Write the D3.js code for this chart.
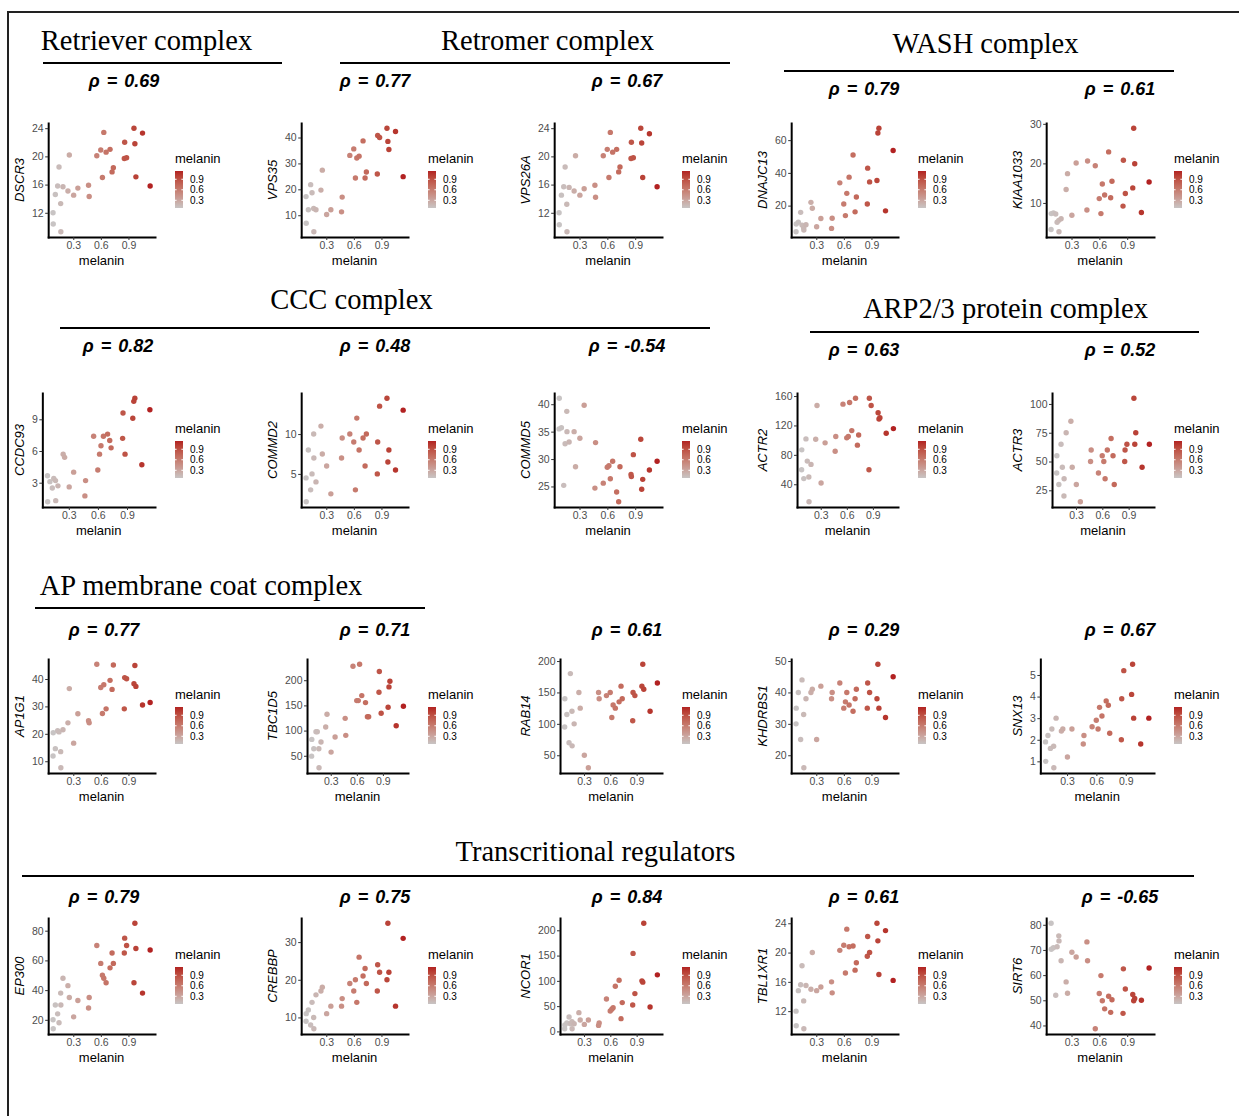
<!DOCTYPE html>
<html>
<head>
<meta charset="utf-8">
<script src="https://cdn.jsdelivr.net/npm/d3@7"></script>
<style>
  body { margin: 0; background: #fff; }
  svg text { font-family: "Liberation Sans", Arial, sans-serif; }
</style>
</head>
<body>
<div id="fig"></div>
<script>
// melanin score of the 30 samples, shared by every panel (sorted)
const melanin = [0.080, 0.082, 0.105, 0.130, 0.145, 0.163, 0.165, 0.188, 0.242, 0.257,
  0.304, 0.350, 0.466, 0.473, 0.556, 0.599, 0.617, 0.632, 0.657, 0.700,
  0.722, 0.736, 0.855, 0.859, 0.880, 0.960, 0.970, 0.981, 1.053, 1.136];

// expression per gene, same sample order as melanin
const DSCR3 = [12.0, 10.4, 14.6, 15.8, 18.5, 13.3, 9.3, 15.7, 15.1, 20.2, 14.5, 15.5, 15.9, 14.3, 20.1,
  20.9, 17.0, 23.4, 20.6, 21.0, 17.8, 18.4, 19.7, 22.0, 19.8, 24.0, 21.8, 17.1, 23.3, 15.8];
const VPS35 = [17.2, 6.9, 12.1, 21.8, 18.7, 12.6, 3.6, 12.1, 19.7, 27.4, 10.3, 12.1, 11.3, 17.0, 33.1,
  35.6, 24.4, 32.1, 32.8, 38.7, 24.4, 26.7, 25.9, 40.8, 40.0, 43.6, 38.5, 35.4, 42.3, 24.9];
const VPS26A = [12.0, 10.3, 14.5, 15.7, 18.5, 13.2, 9.3, 15.6, 15.1, 20.1, 14.5, 15.4, 15.9, 14.2, 20.1,
  21.0, 17.0, 23.4, 20.6, 21.0, 17.8, 18.5, 19.7, 22.0, 19.8, 24.0, 21.9, 17.0, 23.2, 15.7];
const DNAJC13 = [4.0, 8.8, 9.9, 15.9, 8.1, 6.5, 5.1, 8.3, 22.0, 18.4, 7.1, 12.1, 6.1, 12.3, 33.9,
  21.0, 13.9, 27.5, 37.4, 50.9, 16.2, 25.3, 21.0, 42.9, 34.5, 35.3, 64.4, 67.3, 16.8, 53.7];
const KIAA1033 = [3.3, 7.3, 7.5, 7.2, 5.1, 5.6, 2.7, 6.0, 13.4, 17.4, 6.9, 20.1, 8.2, 20.6, 19.4,
  11.1, 7.3, 14.8, 12.0, 22.9, 11.3, 15.5, 9.2, 20.8, 12.4, 13.8, 28.9, 19.9, 7.6, 15.3];
const CCDC93 = [3.66, 1.19, 3.1, 2.5, 3.4, 3.2, 1.3, 2.7, 5.7, 5.4, 2.6, 4.0, 1.75, 3.2, 7.4,
  4.2, 5.7, 6.5, 7.4, 7.6, 7.0, 6.3, 7.2, 9.6, 5.7, 9.1, 10.7, 11.0, 4.7, 9.9];
const COMMD2 = [4.5, 1.5, 8.0, 3.0, 5.0, 10.0, 7.0, 4.0, 11.0, 7.5, 6.0, 2.5, 7.0, 9.5, 10.0,
  9.0, 3.0, 12.0, 8.0, 9.5, 6.0, 10.0, 5.0, 9.0, 13.5, 14.5, 6.5, 8.0, 5.5, 13.0];
const COMMD5 = [35.5, 41.1, 35.7, 25.2, 32.8, 38.7, 35.0, 33.1, 35.0, 28.6, 33.8, 39.8, 24.7, 33.0, 25.6,
  28.5, 28.8, 26.4, 29.6, 24.0, 22.2, 28.6, 27.2, 26.8, 30.8, 33.6, 24.5, 26.3, 28.0, 29.6];
const ACTR2 = [59.8, 86.8, 47.7, 101.7, 71.5, 49.9, 16.1, 67.0, 101.3, 147.2, 41.8, 96.3, 85.0, 104.9, 149.0,
  103.1, 104.9, 151.3, 113.0, 157.1, 93.2, 107.1, 59.8, 157.1, 147.2, 137.3, 128.7, 130.5, 109.4, 115.7];
const ACTR3 = [40, 55, 30, 65, 45, 20, 35, 75, 85, 45, 30, 15, 50, 60, 40,
  55, 50, 35, 60, 70, 55, 30, 50, 60, 65, 105, 65, 75, 45, 65];
const AP1G1 = [11.9, 20.4, 14.6, 21.1, 20.7, 13.5, 7.6, 21.5, 24.0, 36.5, 16.6, 27.3, 24.8, 24.0, 45.4,
  36.9, 27.4, 37.9, 29.1, 39.5, 36.2, 45.1, 29.1, 40.5, 40.1, 38.3, 44.9, 37.3, 30.5, 31.4];
const TBC1D5 = [49.3, 82.5, 63.9, 97.8, 97.8, 63.9, 26.1, 77.2, 107.1, 132.3, 57.3, 87.2, 124.3, 90.5, 227.8,
  159.5, 159.5, 231.8, 169.4, 155.5, 127.6, 127.6, 176.1, 217.2, 134.3, 146.2, 186.7, 198.0, 109.7, 148.2];
const RAB14 = [95, 140, 115, 70, 180, 120, 65, 100, 150, 125, 50, 30, 150, 140, 145,
  150, 110, 130, 125, 135, 160, 140, 105, 150, 145, 160, 195, 155, 120, 165];
const KHDRBS1 = [30, 35, 40, 25, 44, 33, 16, 38, 40, 41, 25, 42, 38, 40, 43,
  35, 37, 40, 36, 34, 38, 41, 35, 43, 40, 38, 49, 35, 32, 45];
const SNX13 = [1.9, 1.0, 2.2, 1.6, 2.5, 1.7, 0.7, 3.0, 2.4, 2.5, 1.2, 2.5, 1.8, 2.2, 2.6,
  2.9, 2.5, 3.5, 3.1, 3.8, 3.6, 2.3, 2.0, 3.9, 5.2, 4.1, 5.5, 3.0, 1.8, 3.0];
const EP300 = [20, 14, 30, 24, 18, 38, 30, 48, 43, 35, 22, 33, 28, 35, 70,
  58, 50, 48, 45, 55, 65, 58, 65, 75, 70, 45, 85, 68, 38, 67];
const CREBBP = [9, 11, 12, 8, 14, 10, 7, 16, 17, 18, 11, 13, 13, 15, 19,
  17, 20, 14, 26, 21, 23, 19, 17, 24, 22, 20, 35, 22, 13, 31];
const NCOR1 = [5.3, 12.6, 16.6, 28.5, 15.2, 19.2, 5.3, 15.2, 37.1, 22.5, 13.9, 22.5, 11.9, 16.6, 64.2,
  40.4, 43.7, 47.0, 89.4, 101.3, 25.2, 57.0, 52.3, 154.3, 74.8, 100.0, 97.4, 213.9, 48.3, 111.9];
const TBL1XR1 = [12.0, 10.0, 14.8, 15.6, 18.2, 13.4, 9.6, 15.5, 15.0, 20.0, 14.8, 15.3, 16.0, 14.5, 20.3,
  21.0, 17.2, 23.2, 20.8, 20.9, 17.6, 18.6, 19.5, 22.2, 20.0, 24.0, 21.6, 17.0, 23.0, 16.2];
const SIRT6 = [80.6, 70.3, 70.9, 52.0, 71.3, 75.6, 73.6, 65.7, 57.3, 52.8, 69.1, 67.2, 73.2, 65.7, 38.7,
  52.7, 59.8, 49.8, 46.6, 51.6, 45.2, 50.2, 44.8, 62.5, 54.5, 52.3, 49.8, 50.7, 50.0, 62.8];

const geneNames = ["DSCR3", "VPS35", "VPS26A", "DNAJC13", "KIAA1033",
  "CCDC93", "COMMD2", "COMMD5", "ACTR2", "ACTR3",
  "AP1G1", "TBC1D5", "RAB14", "KHDRBS1", "SNX13",
  "EP300", "CREBBP", "NCOR1", "TBL1XR1", "SIRT6"];
const geneValues = [DSCR3, VPS35, VPS26A, DNAJC13, KIAA1033,
  CCDC93, COMMD2, COMMD5, ACTR2, ACTR3,
  AP1G1, TBC1D5, RAB14, KHDRBS1, SNX13,
  EP300, CREBBP, NCOR1, TBL1XR1, SIRT6];
const rhoValues = ["0.69", "0.77", "0.67", "0.79", "0.61",
  "0.82", "0.48", "-0.54", "0.63", "0.52",
  "0.77", "0.71", "0.61", "0.29", "0.67",
  "0.79", "0.75", "0.84", "0.61", "-0.65"];
const yTicks = [[12, 16, 20, 24], [10, 20, 30, 40], [12, 16, 20, 24], [20, 40, 60], [10, 20, 30],
  [3, 6, 9], [5, 10], [25, 30, 35, 40], [40, 80, 120, 160], [25, 50, 75, 100],
  [10, 20, 30, 40], [50, 100, 150, 200], [50, 100, 150, 200], [20, 30, 40, 50], [1, 2, 3, 4, 5],
  [20, 40, 60, 80], [10, 20, 30], [0, 50, 100, 150, 200], [12, 16, 20, 24], [40, 50, 60, 70, 80]];
const xTicks = [0.3, 0.6, 0.9];
const legendTicks = [0.3, 0.6, 0.9];

const groupTitles = ["Retriever complex", "Retromer complex", "WASH complex", "CCC complex",
  "ARP2/3 protein complex", "AP membrane coat complex", "Transcritional regulators"];

// ---- layout (pixels) ----
const W = 1239, H = 1116;
const colAnchor = [36.5, 289.5, 542.5, 779.5, 1034.5];
const colRight = [155, 408, 662, 898, 1154];
const rowTop = [123, 393, 659, 918];
const rowBottom = [237, 507, 773, 1034];
const rhoPos = [[124, 87], [375, 87], [627, 87], [864, 95], [1120, 95],
  [118, 352], [375, 352], [627, 352], [864, 356], [1120, 356],
  [104, 636], [375, 636], [627, 636], [864, 636], [1120, 636],
  [104, 903], [375, 903], [627, 903], [864, 903], [1120, 903]];
const titlePos = [
  {cx: 146.5, y: 49.5, x1: 43, x2: 282, ly: 63},
  {cx: 547.5, y: 50, x1: 340, x2: 730, ly: 63},
  {cx: 985.5, y: 52.5, x1: 784, x2: 1174, ly: 71},
  {cx: 351.5, y: 309, x1: 60, x2: 710, ly: 328},
  {cx: 1005.5, y: 318, x1: 810, x2: 1199, ly: 332},
  {cx: 201, y: 595, x1: 35, x2: 425, ly: 608},
  {cx: 595.5, y: 861, x1: 22, x2: 1194, ly: 876}
];

const svg = d3.select("#fig").append("svg")
  .attr("width", W)
  .attr("height", H);

svg.append("rect").attr("width", W).attr("height", H).attr("fill", "#fff");

// outer frame (only top and left edges are visible)
svg.append("path")
  .attr("d", `M8,${H + 2} V12 H${W + 2}`)
  .attr("fill", "none")
  .attr("stroke", "#222")
  .attr("stroke-width", 2);

// colour scale for melanin
const melExtent = d3.extent(melanin);
const color = d3.scaleLinear()
  .domain(melExtent)
  .range(["#c8c4c4", "#b22222"])
  .interpolate(d3.interpolateLab);

const grad = svg.append("defs").append("linearGradient")
  .attr("id", "melGrad")
  .attr("x1", 0).attr("y1", 1).attr("x2", 0).attr("y2", 0);
d3.range(11).forEach(i => {
  grad.append("stop")
    .attr("offset", i / 10)
    .attr("stop-color", color(melExtent[0] + (melExtent[1] - melExtent[0]) * i / 10));
});

function padded(ext) {
  const d = (ext[1] - ext[0]) * 0.05;
  return [ext[0] - d, ext[1] + d];
}

// group titles
groupTitles.forEach((t, i) => {
  const p = titlePos[i];
  svg.append("text")
    .attr("x", p.cx)
    .attr("y", p.y)
    .attr("text-anchor", "middle")
    .style("font-family", "'Liberation Serif', 'Times New Roman', serif")
    .style("font-size", "28.5px")
    .attr("fill", "#000")
    .text(t);
  svg.append("line")
    .attr("x1", p.x1).attr("x2", p.x2)
    .attr("y1", p.ly).attr("y2", p.ly)
    .attr("stroke", "#000")
    .attr("stroke-width", 2);
});

function drawPanel(i) {
  const col = i % 5, row = Math.floor(i / 5);
  const values = geneValues[i];
  const ticks = yTicks[i];
  const top = rowTop[row], bottom = rowBottom[row];
  const right = colRight[col];
  const g = svg.append("g");

  // width of the widest y tick label decides where the panel starts
  let maxw = 0;
  ticks.forEach(t => {
    const tx = g.append("text").style("font-size", "10.5px").text(String(t));
    maxw = Math.max(maxw, tx.node().getComputedTextLength());
    tx.remove();
  });
  const left = colAnchor[col] + maxw;

  const x = d3.scaleLinear().domain(padded(melExtent)).range([left, right]);
  const y = d3.scaleLinear().domain(padded(d3.extent(values))).range([bottom, top]);

  // points
  g.append("g")
    .selectAll("circle")
    .data(melanin)
    .enter()
    .append("circle")
    .attr("cx", d => x(d))
    .attr("cy", (d, j) => y(values[j]))
    .attr("r", 2.7)
    .attr("fill", d => color(d));

  // axes
  const yAxis = g.append("g")
    .attr("transform", `translate(${left},0)`)
    .call(d3.axisLeft(y).tickValues(ticks).tickSize(3).tickSizeOuter(0).tickPadding(1.5)
      .tickFormat(d => String(d)));
  const xAxis = g.append("g")
    .attr("transform", `translate(0,${bottom})`)
    .call(d3.axisBottom(x).tickValues(xTicks).tickSize(3).tickSizeOuter(0).tickPadding(2).tickFormat(d3.format(".1f")));

  [yAxis, xAxis].forEach(a => {
    a.select(".domain").attr("stroke", "#000").attr("stroke-width", 2).attr("stroke-linecap", "square");
    a.selectAll(".tick line").attr("stroke", "#333").attr("stroke-width", 1);
    a.selectAll(".tick text").attr("fill", "#4d4d4d").style("font-size", "10.5px")
      .style("font-family", "'Liberation Sans', Arial, sans-serif");
  });

  // axis titles
  g.append("text")
    .attr("x", (left + right) / 2)
    .attr("y", bottom + 28)
    .attr("text-anchor", "middle")
    .style("font-size", "13px")
    .text("melanin");

  g.append("text")
    .attr("transform", `translate(${colAnchor[col] - 13},${(top + bottom) / 2}) rotate(-90)`)
    .attr("text-anchor", "middle")
    .style("font-size", "13px")
    .style("font-style", "italic")
    .text(geneNames[i]);

  // legend
  const lx = right + 20;
  const cy = (top + bottom) / 2;
  const barTop = cy - 9, barBottom = cy + 28;
  g.append("text")
    .attr("x", lx)
    .attr("y", cy - 17)
    .style("font-size", "13px")
    .text("melanin");
  g.append("rect")
    .attr("x", lx).attr("y", barTop)
    .attr("width", 8).attr("height", barBottom - barTop)
    .attr("fill", "url(#melGrad)");
  const ly = d3.scaleLinear().domain(melExtent).range([barBottom, barTop]);
  legendTicks.forEach(t => {
    g.append("line").attr("x1", lx).attr("x2", lx + 1.6).attr("y1", ly(t)).attr("y2", ly(t))
      .attr("stroke", "#fff").attr("stroke-width", 1);
    g.append("line").attr("x1", lx + 6.4).attr("x2", lx + 8).attr("y1", ly(t)).attr("y2", ly(t))
      .attr("stroke", "#fff").attr("stroke-width", 1);
    g.append("text")
      .attr("x", lx + 15)
      .attr("y", ly(t))
      .attr("dy", "0.35em")
      .style("font-size", "10px")
      .text(t.toFixed(1));
  });

  // correlation label
  g.append("text")
    .attr("x", rhoPos[i][0])
    .attr("y", rhoPos[i][1])
    .attr("text-anchor", "middle")
    .style("font-size", "18px")
    .style("font-weight", "bold")
    .style("font-style", "italic")
    .style("word-spacing", "2px")
    .text(`ρ = ${rhoValues[i]}`);
}

geneNames.forEach((g, i) => drawPanel(i));
</script>
</body>
</html>
